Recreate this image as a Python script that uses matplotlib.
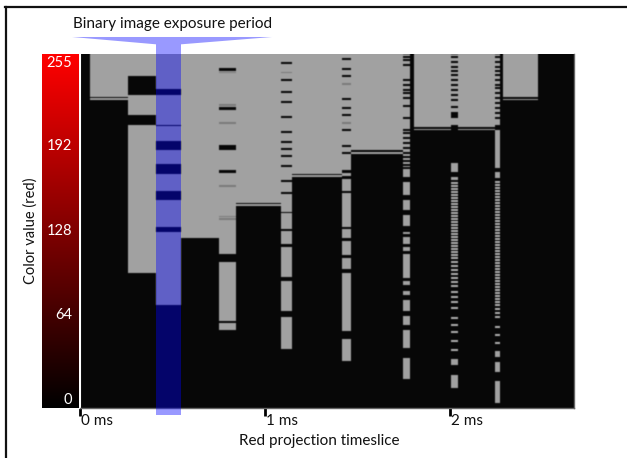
import matplotlib
matplotlib.use('Agg')
import matplotlib.pyplot as plt
from matplotlib.lines import Line2D
from matplotlib.patches import Polygon, Rectangle
from matplotlib.colors import LinearSegmentedColormap
from matplotlib.transforms import ScaledTranslation
import numpy as np

plt.rcParams['font.family'] = ['Lato', 'DejaVu Sans']

# (low, high) colour values that are lit during each timeslice
b_lit = [(225, 256), (223, 224.2)]
c_lit = [(240, 256), (212, 226.4), (97.6, 204.7)]
d_lit = [(231, 256), (205, 226), (193, 204), (176.5, 186.5), (157, 169), (131, 150.5), (74.5, 127)]
e_lit = [(123, 256)]
f_lit = [(246, 256), (218, 243.5), (190, 215.5), (172, 186.5), (111.5, 170), (63, 105.5), (56.5, 61.5)]
g_lit = [(148.3, 256), (146, 147.2)]
h_lit = [(142, 256), (129.5, 141), (118.5, 128), (94.7, 116.4), (70.2, 91.8), (42.7, 65.8)]
i_lit = [(169.3, 256), (167, 168.2)]
j_lit = [(172, 256), (167.5, 170), (157, 165.6), (131, 155.5), (123, 129.5), (110.7, 120.8),
         (100.5, 108.5), (55.7, 97.6), (34, 49.9)]
k_lit = [(186.6, 256), (184, 185.1)]
l_lit = [(174, 256), (167, 173), (154, 163.4), (143.2, 150.4), (131.6, 139.6), (125.8, 127.3),
         (118.6, 123.4), (113.8, 116.2), (94, 111.4), (88.7, 91.6), (81.9, 84.8), (69.9, 78.3),
         (60.2, 66.3), (43.4, 56.4), (21.2, 36.2)]
m_side_lit = [(203.2, 256), (200.7, 201.8)]
m_lit = [(205, 256), (170.7, 177.2), (164.9, 167), (30.9, 35.7), (14.5, 24.1)]
n_lit = [(204.7, 256), (173.6, 201), (166.3, 170.7), (36.7, 41), (25.8, 33), (3.6, 19.7)]
o_lit = [(224.9, 256), (222.7, 223.8)]

# thin dark cuts through the lit bands
h_cuts = [249.5, 237.2, 228.5, 221.3, 210.5, 199.6, 192.4, 187.3, 182.2, 175, 164.2, 155.5]
f_faint = [242.6, 219, 206, 160.5, 138.5, 136.5]
h_faint = [242.6]
j_cuts = [252.4, 245.2, 240.1, 223.5, 217, 211.9, 201, 189.5, 184.4]
j_faint = [234.3, 206]
l_cuts = [253.8, 251.7, 248, 237.2, 233.6, 230, 227.8, 224.2, 218.4, 209.7, 201, 198.9,
          195.3, 191.6, 188, 184.4, 181.5, 178.6, 175.7]
m_cuts = [253.8, 250.2, 246.8, 243.9, 240.8, 237.2, 233.6, 230, 226.4, 222.7, 217.7,
          213.4, 212, 210.7]
n_cuts = [253.8, 250.2, 246.6, 243.7, 240.8, 237.2, 233.6, 231.4, 227.8, 224.2, 220.6,
          217, 213.4, 209.7]

# short lit dots in the fast flicker columns
m_dots = [162.7, 160.5, 158.4, 156.2, 154, 151.9, 149.7, 147.5, 145.3, 143.2, 141, 138.8,
          136.7, 134.5, 132.3, 130.1, 128, 125.8, 123.6, 121.5, 119.3, 117.1, 114.9, 112.8,
          110.6, 108.4, 105.6, 102.7, 99.8, 96.9, 94, 91.1, 88.2, 83.9, 80.3, 76.7, 72.3,
          65.1, 60.2, 55, 48.7, 42.2]
n_dots = [163.4, 161.2, 159, 156.9, 154.7, 152.5, 150.4, 148.2, 146, 143.8, 141.7, 139.5,
          137.3, 135.2, 133, 130.8, 128.6, 126.5, 124.3, 122.1, 120, 117.8, 115.6, 113.4,
          111.3, 109.1, 106.9, 104.8, 102.6, 100.4, 98.2, 96.1, 93.9, 91.7, 89.6, 87.4,
          85.2, 83, 80.9, 78.7, 76.5, 74.4, 71.5, 68.6, 65.7, 58.6, 53, 46.8]

# timeslice start and end, ms
slices = [
    (0.054, 0.257, b_lit, [], [], []),
    (0.257, 0.411, c_lit, [], [], []),
    (0.411, 0.546, d_lit, [], [], []),
    (0.546, 0.751, e_lit, [], [], []),
    (0.751, 0.843, f_lit, [], f_faint, []),
    (0.843, 1.086, g_lit, [], [], []),
    (1.086, 1.146, h_lit, h_cuts, h_faint, []),
    (1.146, 1.416, i_lit, [], [], []),
    (1.416, 1.465, j_lit, j_cuts, j_faint, []),
    (1.465, 1.746, k_lit, [], [], []),
    (1.746, 1.784, l_lit, l_cuts, [], []),
    (1.805, 2.005, m_side_lit, [], [], []),
    (2.005, 2.043, m_lit, m_cuts, [], m_dots),
    (2.043, 2.243, m_side_lit, [], [], []),
    (2.243, 2.27, n_lit, n_cuts, [], n_dots),
    (2.286, 2.476, o_lit, [], [], []),
]

exposure_start = 0.411
exposure_end = 0.546
t_max = 2.67
v_max = 256

color_ticks = [255, 192, 128, 64, 0]
time_ticks = [0, 1, 2]
time_labels = ['0 ms', '1 ms', '2 ms']

# build the exposure image
times = (np.arange(494) + 0.5) / 494 * t_max
values = (np.arange(354) + 0.5) / 354 * v_max
exposure = np.full((354, 494), 0.03)
for t0, t1, lit, cuts, faint, dots in slices:
    cols = (times >= t0) & (times < t1)
    for lo, hi in lit:
        rows = (values >= lo) & (values < hi)
        exposure[np.ix_(rows, cols)] = 0.63
    for v in faint:
        rows = np.abs(values - v) < 0.7
        exposure[np.ix_(rows, cols)] = 0.48
    for v in cuts:
        rows = np.abs(values - v) < 0.8
        exposure[np.ix_(rows, cols)] = 0.03
    for v in dots:
        rows = np.abs(values - v) < 0.8
        exposure[np.ix_(rows, cols)] = 0.68

# the camera image is slightly soft
kernel = np.array([0.2, 0.6, 0.2])
exposure = np.apply_along_axis(lambda c: np.convolve(c, kernel, mode='same'), 0, exposure)
exposure = np.apply_along_axis(lambda r: np.convolve(r, kernel, mode='same'), 1, exposure)
exposure[[0, -1], :] = exposure[[1, -2], :]
exposure[:, [0, -1]] = exposure[:, [1, -2]]

fig = plt.figure(figsize=(6.27, 4.58), dpi=100)
W, H = 627.0, 458.0

ax = fig.add_axes([80 / W, 1 - 408 / H, 494 / W, 354 / H])
ax.imshow(exposure, origin='lower', aspect='auto', cmap='gray', vmin=0, vmax=1,
          extent=[0, t_max, 0, v_max], interpolation='bilinear')
ax.set_xlim(0, t_max)
ax.set_ylim(0, v_max)
ax.set_yticks([])
ax.spines['top'].set_visible(False)
ax.spines['left'].set_color('white')
ax.spines['left'].set_linewidth(1.5)
for side in ['right', 'bottom']:
    ax.spines[side].set_color('#666666')
    ax.spines[side].set_linewidth(1)

ax.set_xticks(time_ticks)
ax.set_xticklabels(time_labels, ha='left', fontsize=11, color='#111111')
ax.tick_params(axis='x', length=5.5, width=2, color='black', pad=-1.5, direction='out')
for lab in ax.get_xticklabels():
    lab.set_transform(lab.get_transform() + ScaledTranslation(1 / 100, 0, fig.dpi_scale_trans))
ax.set_xlabel('Red projection timeslice', fontsize=11, color='#111111', x=0.484, labelpad=5)

# exposure window and funnel up to the caption
ax.add_patch(Rectangle((exposure_start, -5), exposure_end - exposure_start, 268,
                       facecolor='#0000ff', alpha=0.4, edgecolor='none', clip_on=False, zorder=5))
ax.add_patch(Polygon([(-0.043, 268.3), (1.038, 268.3), (exposure_end, 263), (exposure_start, 263)],
                     facecolor='#9999ff', edgecolor='none', clip_on=False, zorder=5))
ax.text((exposure_start + exposure_end) / 2 + 0.02, 277.5, 'Binary image exposure period',
        ha='center', va='center', fontsize=11, color='#111111')

# red colour bar
bar = fig.add_axes([42 / W, 1 - 408 / H, 37 / W, 354 / H])
red_map = LinearSegmentedColormap.from_list('reds', ['black', 'red'])
bar.imshow(np.linspace(0, 1, 256).reshape(-1, 1), origin='lower', aspect='auto', cmap=red_map,
           extent=[0, 1, 0, v_max])
bar.set_xticks([])
bar.set_yticks([])
for sp in bar.spines.values():
    sp.set_visible(False)
for v in color_ticks:
    bar.text(0.82, 6 + v * 0.955, str(v), color='white', ha='right', va='center', fontsize=10.5)
bar.set_ylabel('Color value (red)', fontsize=10.5, color='#111111', labelpad=3, y=0.5)

# frame of the original figure
fig.add_artist(Line2D([5.5 / W, 5.5 / W], [0, 1 - 7 / H], color='#111111', lw=1.6))
fig.add_artist(Line2D([5 / W, 1], [1 - 7 / H, 1 - 7 / H], color='#111111', lw=1.6))

fig.savefig('out.png', dpi=100)
